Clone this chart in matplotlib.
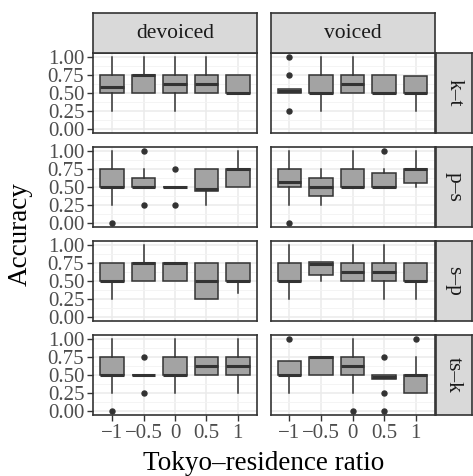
import matplotlib
matplotlib.use("Agg")
import matplotlib.pyplot as plt

plt.rcParams['font.family'] = ['Liberation Serif', 'DejaVu Serif']
plt.rcParams['mathtext.fontset'] = 'stix'

# ---------------- data ----------------
voicing = ["devoiced", "voiced"]
onsets = ["k\u2013t", "p\u2013s", "s\u2013p", "ts\u2013k"]
x_labels = ["\u22121", "\u22120.5", "0", "0.5", "1"]

# [row][col][box]
q1 = [
    [[0.5, 0.5, 0.5, 0.5, 0.5], [0.5, 0.5, 0.5, 0.5, 0.5]],
    [[0.5, 0.5, 0.5, 0.44, 0.5], [0.5, 0.37, 0.5, 0.5, 0.56]],
    [[0.5, 0.5, 0.5, 0.25, 0.5], [0.5, 0.59, 0.5, 0.5, 0.5]],
    [[0.5, 0.5, 0.5, 0.5, 0.5], [0.5, 0.5, 0.5, 0.44, 0.25]],
]
med = [
    [[0.58, 0.75, 0.63, 0.63, 0.5], [0.53, 0.5, 0.63, 0.5, 0.5]],
    [[0.5, 0.5, 0.5, 0.47, 0.75], [0.57, 0.5, 0.5, 0.5, 0.75]],
    [[0.5, 0.75, 0.75, 0.5, 0.5], [0.5, 0.74, 0.63, 0.63, 0.5]],
    [[0.5, 0.5, 0.5, 0.63, 0.63], [0.5, 0.75, 0.63, 0.47, 0.5]],
]
q3 = [
    [[0.75, 0.75, 0.75, 0.75, 0.75], [0.56, 0.75, 0.75, 0.75, 0.73]],
    [[0.75, 0.62, 0.5, 0.75, 0.75], [0.75, 0.62, 0.75, 0.69, 0.75]],
    [[0.75, 0.75, 0.75, 0.75, 0.75], [0.75, 0.77, 0.75, 0.75, 0.75]],
    [[0.75, 0.5, 0.75, 0.75, 0.75], [0.69, 0.75, 0.75, 0.5, 0.5]],
]
whislo = [
    [[0.25, 0.5, 0.25, 0.5, 0.5], [0.5, 0.25, 0.5, 0.5, 0.25]],
    [[0.25, 0.5, 0.5, 0.25, 0.5], [0.25, 0.25, 0.5, 0.5, 0.5]],
    [[0.25, 0.5, 0.5, 0.25, 0.33], [0.25, 0.5, 0.5, 0.25, 0.25]],
    [[0.25, 0.5, 0.25, 0.5, 0.25], [0.25, 0.5, 0.25, 0.44, 0.25]],
]
whishi = [
    [[1.0, 1.0, 1.0, 1.0, 0.75], [0.56, 1.0, 1.0, 0.75, 0.73]],
    [[1.0, 0.75, 0.5, 0.75, 1.0], [1.0, 0.75, 1.0, 0.75, 1.0]],
    [[0.75, 1.0, 0.75, 0.75, 0.75], [1.0, 0.77, 1.0, 1.0, 0.75]],
    [[1.0, 0.5, 1.0, 0.75, 1.0], [0.69, 0.75, 1.0, 0.5, 0.75]],
]
fliers = [
    [[[], [], [], [], []], [[1.0, 0.75, 0.25], [], [], [], []]],
    [[[0.0], [1.0, 0.25], [0.75, 0.25], [], []], [[0.0], [], [], [1.0], []]],
    [[[], [], [], [], []], [[], [], [], [], []]],
    [[[0.0], [0.75, 0.25], [], [], []], [[1.0], [], [0.0], [0.75, 0.25, 0.0], [1.0]]],
]
y_ticks = [0.0, 0.25, 0.5, 0.75, 1.0]
y_ticklabels = ["0.00", "0.25", "0.50", "0.75", "1.00"]

# ---------------- layout (pixels) ----------------
W, H = 473, 476
fig = plt.figure(figsize=(W / 100, H / 100), dpi=100)
col_x = [(93.3, 256.7), (270.5, 434.5)]
row_top0, row_step, row_h = 53.3, 94.0, 79.4
strip_top = 12.7
strip_r = (435.5, 472.0)

def rect(x0, x1, y0, y1):
    return [x0 / W, 1 - y1 / H, (x1 - x0) / W, (y1 - y0) / H]

dark = '#333333'
box_fill = '#A3A3A3'
positions = [1, 2, 3, 4, 5]

for r in range(4):
    y0 = row_top0 + r * row_step
    y1 = y0 + row_h
    for c in range(2):
        x0, x1 = col_x[c]
        ax = fig.add_axes(rect(x0, x1, y0, y1))
        ax.set_facecolor('white')
        stats = []
        for i in range(5):
            stats.append(dict(med=med[r][c][i], q1=q1[r][c][i], q3=q3[r][c][i],
                              whislo=whislo[r][c][i], whishi=whishi[r][c][i],
                              fliers=fliers[r][c][i]))
        ax.bxp(stats, positions=positions, widths=0.75, patch_artist=True,
               showcaps=False,
               boxprops=dict(facecolor=box_fill, edgecolor=dark, linewidth=1.1),
               medianprops=dict(color=dark, linewidth=2.2, solid_capstyle='butt'),
               whiskerprops=dict(color=dark, linewidth=1.1),
               flierprops=dict(marker='o', markerfacecolor=dark, markeredgecolor=dark,
                               markersize=3.6, linestyle='none'),
               zorder=3)
        ax.set_xlim(0.4, 5.6)
        ax.set_ylim(-0.05, 1.05)
        ax.set_yticks(y_ticks)
        ax.set_yticks([0.125, 0.375, 0.625, 0.875], minor=True)
        ax.set_xticks(positions)
        ax.grid(True, which='major', color='#EBEBEB', linewidth=1.1, zorder=0)
        ax.grid(True, which='minor', axis='y', color='#F3F3F3', linewidth=0.6, zorder=0)
        ax.set_axisbelow(True)
        for s in ax.spines.values():
            s.set_color(dark)
            s.set_linewidth(1.2)
        ax.tick_params(which='minor', length=0)
        ax.tick_params(which='major', direction='out', length=4.5, width=1.0,
                       color=dark, labelsize=15, labelcolor='#4D4D4D', pad=2)
        if c == 0:
            ax.set_yticklabels(y_ticklabels)
        else:
            ax.tick_params(axis='y', which='major', length=0, labelleft=False)
        if r == 3:
            ax.set_xticklabels(x_labels)
        else:
            ax.tick_params(axis='x', which='major', length=0, labelbottom=False)

        # top strips
        if r == 0:
            sax = fig.add_axes(rect(x0, x1, strip_top, y0))
            sax.set_facecolor('#D9D9D9')
            sax.set_xticks([]); sax.set_yticks([])
            for s in sax.spines.values():
                s.set_color(dark); s.set_linewidth(1.2)
            sax.text(0.5, 0.5, voicing[c], ha='center', va='center',
                     fontsize=15.5, color='#1A1A1A', transform=sax.transAxes)
        # right strips
        if c == 1:
            sax = fig.add_axes(rect(strip_r[0], strip_r[1], y0, y1))
            sax.set_facecolor('#D9D9D9')
            sax.set_xticks([]); sax.set_yticks([])
            for s in sax.spines.values():
                s.set_color(dark); s.set_linewidth(1.2)
            sax.text(0.5, 0.5, onsets[r], ha='center', va='center', rotation=270,
                     fontsize=15.5, color='#1A1A1A', transform=sax.transAxes)

fig.text(20 / W, 1 - 234 / H, "Accuracy", rotation=90, ha='center', va='center',
         fontsize=19.5, color='black')
fig.text(264 / W, 1 - 463 / H, "Tokyo\u2013residence ratio", ha='center', va='center',
         fontsize=19.5, color='black')

fig.savefig("out.png", dpi=100)
